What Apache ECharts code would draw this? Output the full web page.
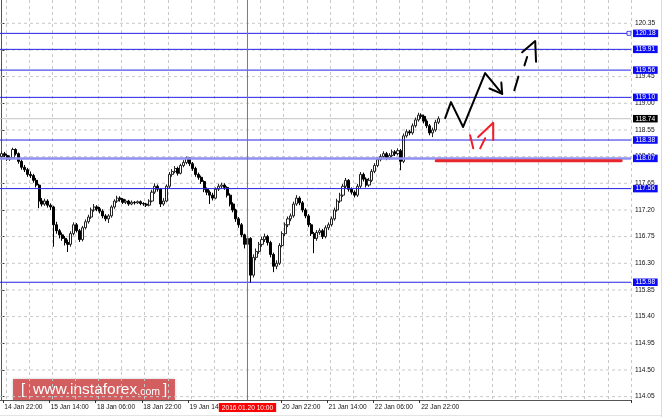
<!DOCTYPE html>
<html><head><meta charset="utf-8">
<script src="https://cdn.jsdelivr.net/npm/echarts@6/dist/echarts.min.js"></script>
<style>html,body{margin:0;padding:0;background:#fff}#c{width:664px;height:417px}</style>
</head><body><div id="c"></div>
<script>
// ---- data ----
const opens = [118.10,118.15,118.12,118.06,118.08,118.22,118.15,118.02,117.92,117.88,117.80,117.78,117.70,117.62,117.35,117.30,117.35,117.28,117.25,116.95,116.85,116.78,116.72,116.65,116.62,116.80,116.95,116.85,116.70,116.90,117.00,117.08,117.20,117.25,117.22,117.18,117.10,117.05,117.10,117.25,117.35,117.40,117.38,117.33,117.35,117.30,117.33,117.32,117.34,117.31,117.30,117.28,117.35,117.50,117.60,117.55,117.30,117.35,117.60,117.80,117.85,117.90,117.82,117.95,118.00,118.08,117.98,117.90,117.80,117.75,117.68,117.55,117.50,117.45,117.40,117.55,117.60,117.62,117.58,117.45,117.30,117.20,117.05,116.95,116.78,116.62,116.72,116.10,116.40,116.50,116.62,116.70,116.75,116.65,116.45,116.25,116.30,116.60,116.80,116.95,117.05,117.10,117.30,117.40,117.32,117.20,117.10,116.95,116.80,116.72,116.82,116.85,116.75,116.90,116.95,117.05,117.20,117.35,117.45,117.60,117.70,117.55,117.50,117.45,117.60,117.80,117.72,117.62,117.70,117.85,117.95,118.05,118.10,118.15,118.08,118.12,118.18,118.15,118.20,118.02,118.45,118.52,118.50,118.62,118.72,118.80,118.78,118.70,118.62,118.50,118.55,118.68];
const closes = [118.15,118.12,118.06,118.08,118.22,118.15,118.02,117.92,117.88,117.80,117.78,117.70,117.62,117.35,117.30,117.35,117.28,117.25,116.95,116.85,116.78,116.72,116.65,116.62,116.80,116.95,116.85,116.70,116.90,117.00,117.08,117.20,117.25,117.22,117.18,117.10,117.05,117.10,117.25,117.35,117.40,117.38,117.33,117.35,117.30,117.33,117.32,117.34,117.31,117.30,117.28,117.35,117.50,117.60,117.55,117.30,117.35,117.60,117.80,117.85,117.90,117.82,117.95,118.00,118.08,117.98,117.90,117.80,117.75,117.68,117.55,117.50,117.45,117.40,117.55,117.60,117.62,117.58,117.45,117.30,117.20,117.05,116.95,116.78,116.62,116.72,116.10,116.40,116.50,116.62,116.70,116.75,116.65,116.45,116.25,116.30,116.60,116.80,116.95,117.05,117.10,117.30,117.40,117.32,117.20,117.10,116.95,116.80,116.72,116.82,116.85,116.75,116.90,116.95,117.05,117.20,117.35,117.45,117.60,117.70,117.55,117.50,117.45,117.60,117.80,117.72,117.62,117.70,117.85,117.95,118.05,118.10,118.15,118.08,118.12,118.18,118.15,118.20,118.02,118.45,118.52,118.50,118.62,118.72,118.80,118.78,118.70,118.62,118.50,118.55,118.68,118.74];
const lows = [118.07,118.09,118.03,118.03,118.06,118.12,117.98,117.88,117.84,117.76,117.74,117.66,117.58,117.23,117.26,117.27,117.24,117.20,116.58,116.80,116.72,116.68,116.60,116.49,116.58,116.77,116.82,116.66,116.67,116.87,116.97,117.05,117.17,117.18,117.14,117.06,117.01,116.98,117.07,117.22,117.32,117.34,117.30,117.30,117.27,117.28,117.29,117.30,117.28,117.27,117.25,117.26,117.33,117.47,117.51,117.25,117.27,117.33,117.57,117.76,117.82,117.78,117.80,117.92,117.97,117.94,117.86,117.76,117.71,117.64,117.50,117.45,117.30,117.36,117.38,117.52,117.57,117.54,117.41,117.26,117.16,117.00,116.90,116.74,116.55,116.58,115.97,116.06,116.35,116.46,116.58,116.66,116.60,116.40,116.15,116.20,116.27,116.57,116.76,116.91,117.01,117.07,117.27,117.28,117.16,117.06,116.91,116.76,116.47,116.68,116.78,116.71,116.72,116.86,116.92,117.02,117.17,117.32,117.42,117.57,117.51,117.46,117.41,117.42,117.57,117.68,117.58,117.59,117.67,117.82,117.92,118.02,118.07,118.04,118.05,118.09,118.11,118.12,117.87,117.99,118.42,118.46,118.47,118.59,118.69,118.74,118.66,118.58,118.46,118.43,118.52,118.65];
const highs = [118.19,118.18,118.15,118.12,118.25,118.24,118.17,118.05,117.96,117.91,117.85,117.81,117.74,117.64,117.40,117.39,117.38,117.31,117.27,117.00,116.88,116.82,116.76,116.70,116.84,116.99,116.98,116.88,116.93,117.04,117.12,117.24,117.30,117.28,117.25,117.21,117.13,117.13,117.28,117.38,117.44,117.43,117.40,117.38,117.37,117.36,117.35,117.36,117.36,117.33,117.32,117.38,117.54,117.65,117.63,117.57,117.40,117.63,117.84,117.89,117.94,117.93,117.98,118.04,118.10,118.09,118.01,117.93,117.83,117.78,117.70,117.58,117.53,117.49,117.58,117.64,117.66,117.65,117.60,117.48,117.33,117.22,117.08,116.98,116.80,116.76,116.74,116.45,116.55,116.66,116.75,116.80,116.78,116.68,116.48,116.35,116.64,116.84,116.99,117.09,117.14,117.34,117.45,117.43,117.35,117.23,117.13,116.98,116.83,116.86,116.89,116.88,116.94,116.99,117.09,117.24,117.39,117.49,117.64,117.74,117.72,117.58,117.53,117.64,117.84,117.83,117.75,117.74,117.89,117.99,118.09,118.14,118.19,118.18,118.16,118.22,118.21,118.24,118.23,118.49,118.56,118.55,118.66,118.76,118.84,118.83,118.81,118.73,118.65,118.59,118.72,118.78];
const firstBar = '2016-01-14T21:00:00Z';
const slotCount = 218;
const xTickLabels = ['14 Jan 22:00','15 Jan 14:00','18 Jan 06:00','18 Jan 22:00','19 Jan 14:00','20 Jan 22:00','21 Jan 14:00','22 Jan 06:00','22 Jan 22:00'];
const yTickLabels = [114.05,114.50,114.95,115.40,115.85,116.30,116.75,117.20,117.65,118.10,118.55,119.00,119.45,119.90,120.35];
const levels = [120.18,119.91,119.56,119.10,118.38,117.56,115.98];
const softLevel = 118.07;
const lastPrice = 118.74;
const markedTime = '20 Jan 10:00';
const markedLabel = '2016.01.20 10:00';
const redSegment = [[150.2,118.03],[214.1,118.03]];
const blackZig = [[153.3,118.75],[155.3,119.02],[159.5,118.60],[167.1,119.51],[173.0,119.16]];
const blackHead1 = [[168.6,119.25],[173.0,119.16],[172.7,119.35]];
const blackDash1 = [[178.6,119.45],[177.2,119.22]];
const blackDash2 = [[181.6,119.78],[180.7,119.64]];
const blackHead2 = [[179.9,119.86],[184.4,120.05],[184.7,119.70]];
const redDash1 = [[161.9,118.46],[163.0,118.24]];
const redDash2 = [[165.4,118.24],[167.1,118.41]];
const redHead = [[164.7,118.43],[169.9,118.67],[169.9,118.38]];
const handle = [[216.8,120.18]];

// ---- categories (hourly bars, weekend skipped) ----
const months = ['Jan','Feb','Mar','Apr','May','Jun','Jul','Aug','Sep','Oct','Nov','Dec'];
const categories = [];
let t = new Date(firstBar).getTime();
for (let k = 0; k < slotCount; k++) {
  const d = new Date(t);
  categories.push(d.getUTCDate() + ' ' + months[d.getUTCMonth()] + ' ' + String(d.getUTCHours()).padStart(2,'0') + ':00');
  t += 3600000;
  const nd = new Date(t);
  if (nd.getUTCDay() === 6) t += 48 * 3600000;
}
const markedIndex = categories.indexOf(markedTime);
const candleData = opens.map((o, i) => [o, closes[i], lows[i], highs[i]]);

const FONT = 'Liberation Sans';
const blue = '#2323e6';
const Y_MIN = 113.993, Y_MAX = 120.743, X_MIN = -0.5, X_MAX = slotCount - 0.5;
function lineSeries(data, color, width, extra) {
  return Object.assign({ type: 'line', xAxisIndex: 1, yAxisIndex: 0, data: data, symbol: 'none', silent: true,
    lineStyle: { color: color, width: width, cap: 'round', join: 'round' }, itemStyle: { color: color },
    z: 6, animation: false, clip: false }, extra || {});
}
function hLevel(v, color, width, bg, z) {
  return lineSeries([[X_MIN, v], [X_MAX, v]], color, width, {
    z: z, lineStyle: { color: color, width: width, cap: 'butt' },
    endLabel: { show: true, distance: 2, formatter: () => v.toFixed(2), backgroundColor: bg, color: '#fff',
      fontFamily: FONT, fontSize: 6.6, lineHeight: 7, padding: [0.5, 2.5, 0, 2.5] }
  });
}

const chart = echarts.init(document.getElementById('c'), null, { renderer: 'canvas' });
chart.setOption({
  animation: false,
  backgroundColor: '#fff',
  grid: { left: 0, right: 33, top: 0, bottom: 17 },
  xAxis: [{
    type: 'category', data: categories, boundaryGap: true,
    axisLine: { lineStyle: { color: '#555', width: 1 } },
    axisTick: { show: true, length: 3, interval: (i, v) => xTickLabels.includes(v), lineStyle: { color: '#333' } },
    axisLabel: { interval: (i, v) => xTickLabels.includes(v), align: 'left', margin: 4, fontSize: 6.6, fontFamily: FONT, color: '#111' },
    splitLine: { show: true, interval: (i) => i % 8 === 2, lineStyle: { color: '#c8c8c8', type: [3, 3], width: 1 } }
  }, {
    type: 'value', min: X_MIN, max: X_MAX, show: false
  }],
  yAxis: [{
    type: 'value', position: 'right', min: Y_MIN, max: Y_MAX, scale: true,
    axisLine: { show: true, lineStyle: { color: '#555' } },
    axisTick: { show: true, length: 3, customValues: yTickLabels, lineStyle: { color: '#333' } },
    axisLabel: { customValues: yTickLabels, formatter: v => v.toFixed(2), margin: 4, fontSize: 6.6, fontFamily: FONT, color: '#111' },
    splitLine: { show: false }
  }],
  graphic: [
    { type: 'line', shape: { x1: 661.5, y1: 0, x2: 661.5, y2: 417 }, style: { stroke: '#dcdcdc', lineWidth: 1 }, z: 50 },
    { type: 'line', shape: { x1: 0, y1: 415.5, x2: 661, y2: 415.5 }, style: { stroke: '#e4e4e4', lineWidth: 1 }, z: 50 },
    {
    type: 'group', left: 13, top: 379, z: 100,
    children: [
      { type: 'rect', shape: { width: 162, height: 22 }, style: { fill: 'rgba(212,70,72,0.82)', shadowBlur: 3, shadowColor: 'rgba(0,0,0,0.25)' } },
      { type: 'text', x: 8, y: 11, style: { text: '[', fill: '#fff', font: '15px "Liberation Sans"', verticalAlign: 'middle' } },
      { type: 'text', x: 20, y: 11, style: { text: 'www.instaforex{c|.com}', fill: '#fff', font: '15.5px "Liberation Sans"', verticalAlign: 'middle',
        rich: { c: { fontSize: 10.5, fontFamily: FONT, fill: '#fff', verticalAlign: 'bottom', padding: [3, 0, 0, 0] } } } },
      { type: 'text', x: 150, y: 11, style: { text: ']', fill: '#fff', font: '15px "Liberation Sans"', verticalAlign: 'middle' } }
    ]
  }],
  series: [
    ...yTickLabels.map(v => lineSeries([[X_MIN, v], [X_MAX, v]], '#c8c8c8', 1, { z: 1, lineStyle: { color: '#c8c8c8', width: 1, type: [3, 3], cap: 'butt' } })),
    { type: 'candlestick', data: candleData, barWidth: 2.6, z: 3,
      itemStyle: { color: '#ffffff', color0: '#000000', borderColor: '#222222', borderColor0: '#000000', borderWidth: 1 } },
    hLevel(lastPrice, '#c4c4c4', 1, '#000000', 2),
    ...levels.map(v => hLevel(v, blue, 1, '#0c0cf5', 4)),
    hLevel(softLevel, '#8f8ff2', 2.5, '#0c0cf5', 4),
    lineSeries([[markedIndex, Y_MAX], [markedIndex, Y_MIN]], '#ff4040', 1, { z: 5, lineStyle: { color: '#ff4040', width: 1, cap: 'butt' },
      markPoint: { silent: true, symbol: 'rect', symbolSize: 0,
        data: [{ coord: [markedIndex, Y_MIN] }],
        label: { show: true, position: 'bottom', distance: 3, formatter: markedLabel, backgroundColor: '#ff0000', color: '#fff',
          fontFamily: FONT, fontSize: 6.6, lineHeight: 8, padding: [1, 3, 0, 3] } } }),
    lineSeries(redSegment, '#e8262c', 3),
    lineSeries(blackZig, '#000', 2),
    lineSeries(blackHead1, '#000', 2),
    lineSeries(blackDash1, '#000', 2),
    lineSeries(blackDash2, '#000', 2),
    lineSeries(blackHead2, '#000', 2),
    lineSeries(redDash1, '#f01e28', 2),
    lineSeries(redDash2, '#f01e28', 2),
    lineSeries(redHead, '#f01e28', 2),
    { type: 'scatter', xAxisIndex: 1, data: handle, symbol: 'rect', symbolSize: 4, silent: true, z: 7,
      itemStyle: { color: '#fff', borderColor: blue, borderWidth: 1 } }
  ]
});
</script></body></html>
